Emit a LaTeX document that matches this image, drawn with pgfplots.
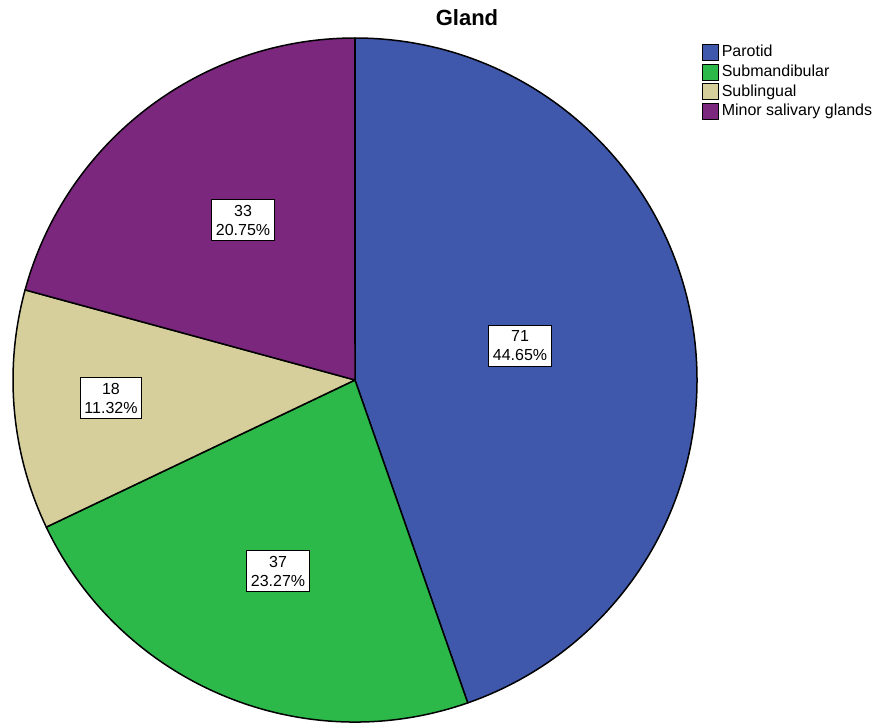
\documentclass[border=0pt]{standalone}
\usepackage{fontspec}
\setmainfont{Liberation Sans}
\usepackage{pgfplots}
\pgfplotsset{compat=1.18}
\definecolor{cPar}{RGB}{63,88,171}
\definecolor{cSubm}{RGB}{45,184,74}
\definecolor{cSubl}{RGB}{214,207,155}
\definecolor{cMin}{RGB}{123,39,126}
% counts
\def\nPar{71}
\def\nSubm{37}
\def\nSubl{18}
\def\nMin{33}
\pgfmathsetmacro{\total}{\nPar+\nSubm+\nSubl+\nMin}
\pgfmathsetmacro{\aA}{90}
\pgfmathsetmacro{\aB}{\aA-\nPar/\total*360}
\pgfmathsetmacro{\aC}{\aB-\nSubm/\total*360}
\pgfmathsetmacro{\aD}{\aC-\nSubl/\total*360}
\pgfmathsetmacro{\aE}{\aD-\nMin/\total*360}
\pgfmathsetmacro{\pPar}{\nPar/\total*100}
\pgfmathsetmacro{\pSubm}{\nSubm/\total*100}
\pgfmathsetmacro{\pSubl}{\nSubl/\total*100}
\pgfmathsetmacro{\pMin}{\nMin/\total*100}
\newcommand{\pct}[1]{\pgfmathprintnumber[fixed,fixed zerofill,precision=2,assume math mode=true]{#1}\%}
\begin{document}
\begin{tikzpicture}
\begin{axis}[
  name=ax,
  x=0.5pt, y=0.5pt,
  xmin=0, xmax=882, ymin=0, ymax=725,
  hide axis, clip=false,
  legend style={at={(axis cs:702,683)}, anchor=north west, draw=none, fill=none,
    font=\fontsize{8}{9}\selectfont, row sep=0pt, inner sep=0pt,
    nodes={inner sep=1.3pt}},
  legend cell align=left,
  legend image code/.code={\draw[#1, draw=black, line width=0.4pt] (0pt,-4pt) rectangle (8pt,4pt);},
]
\addlegendimage{fill=cPar}
\addlegendentry{Parotid}
\addlegendimage{fill=cSubm}
\addlegendentry{Submandibular}
\addlegendimage{fill=cSubl}
\addlegendentry{Sublingual}
\addlegendimage{fill=cMin}
\addlegendentry{Minor salivary glands}
\filldraw[fill=cPar, draw=black, line width=0.75pt, line join=round] (axis cs:355,345) -- ++(\aA:171pt) arc[start angle=\aA, end angle=\aB, radius=171pt] -- cycle;
\filldraw[fill=cSubm, draw=black, line width=0.75pt, line join=round] (axis cs:355,345) -- ++(\aB:171pt) arc[start angle=\aB, end angle=\aC, radius=171pt] -- cycle;
\filldraw[fill=cSubl, draw=black, line width=0.75pt, line join=round] (axis cs:355,345) -- ++(\aC:171pt) arc[start angle=\aC, end angle=\aD, radius=171pt] -- cycle;
\filldraw[fill=cMin, draw=black, line width=0.75pt, line join=round] (axis cs:355,345) -- ++(\aD:171pt) arc[start angle=\aD, end angle=\aE, radius=171pt] -- cycle;
\tikzset{lab/.style={draw=black, line width=0.6pt, fill=white, align=center, font=\fontsize{8}{9.5}\selectfont, inner xsep=2pt, inner ysep=2.8pt}}
\node[lab] at (axis cs:520,379) {\nPar\\\pct{\pPar}};
\node[lab] at (axis cs:278,154) {\nSubm\\\pct{\pSubm}};
\node[lab] at (axis cs:111,327) {\nSubl\\\pct{\pSubl}};
\node[lab] at (axis cs:243,505) {\nMin\\\pct{\pMin}};
\node[font=\bfseries\fontsize{11}{13}\selectfont, inner sep=0pt] at (axis cs:467,707) {Gland};
\end{axis}
\pgfresetboundingbox
\path[use as bounding box] (ax.south west) rectangle (ax.north east);
\end{tikzpicture}
\end{document}
